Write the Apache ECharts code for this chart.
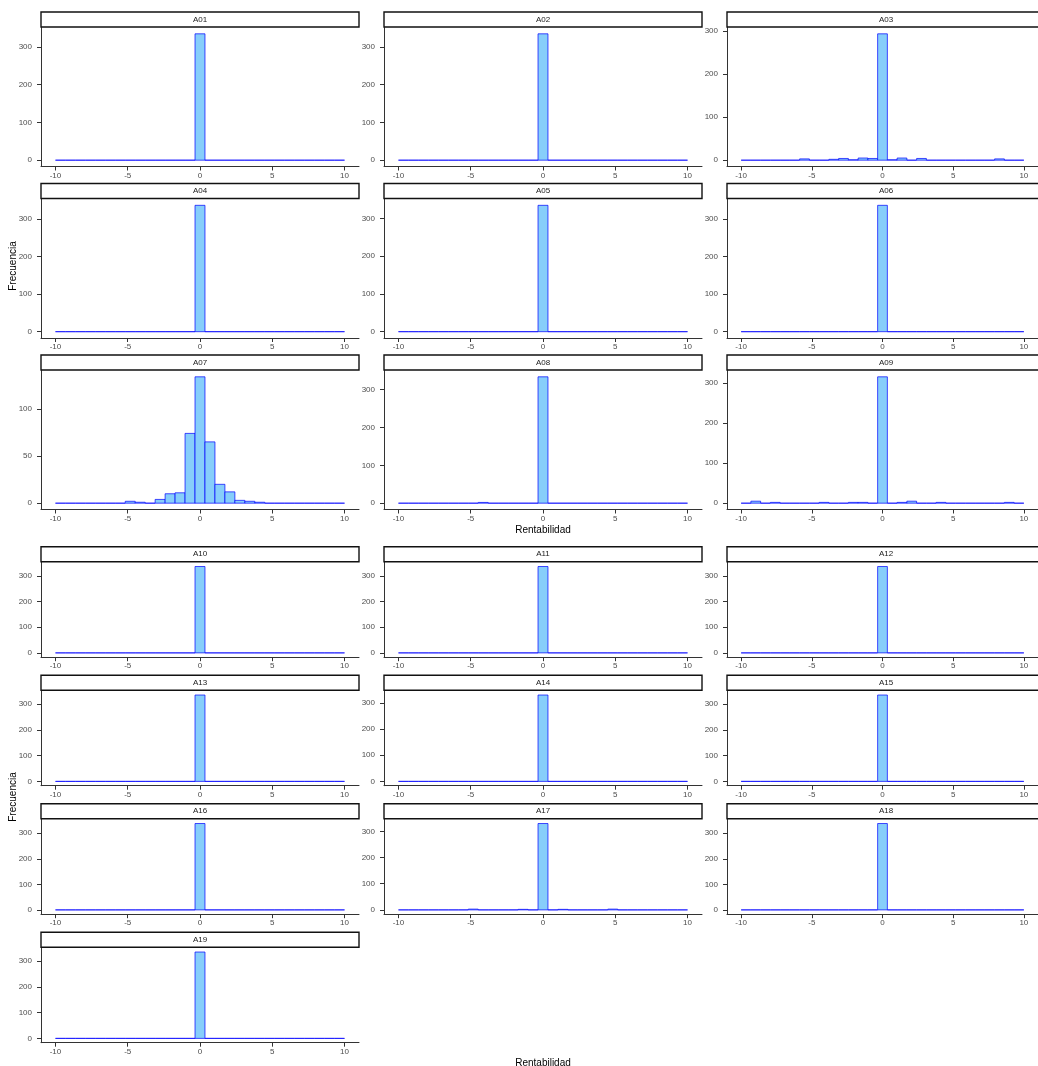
<!DOCTYPE html>
<html>
<head>
<meta charset="utf-8">
<script src="https://cdn.jsdelivr.net/npm/echarts@6/dist/echarts.min.js"></script>
<style>
  html, body { margin: 0; padding: 0; background: #ffffff; }
  #chart { width: 1038px; height: 1066px; }
</style>
</head>
<body>
<div id="chart"></div>
<script>
// Histogram bins: 29 equal-width bins covering Rentabilidad from -10 to 10
const binRange = [-10, 10];
const binCount = 29;
const xTicks = [-10, -5, 0, 5, 10];
const yTicksWide = [0, 100, 200, 300];
const yTicksNarrow = [0, 50, 100];

// Frequency per bin, lowest bin first (centre -9.66 ... 0 ... 9.66)
const A01 = [0,0,0,0,0,0,0,0,0,0,0,0,0,0,335,0,0,0,0,0,0,0,0,0,0,0,0,0,0];
const A02 = [0,0,0,0,0,0,0,0,0,0,0,0,0,0,335,0,0,0,0,0,0,0,0,0,0,0,0,0,0];
const A03 = [0,0,0,0,0,0,3,0,0,2,4,1,5,4,293,1,5,0,4,0,0,0,0,0,0,0,3,0,0];
const A04 = [0,0,0,0,0,0,0,0,0,0,0,0,0,0,336,0,0,0,0,0,0,0,0,0,0,0,0,0,0];
const A05 = [0,0,0,0,0,0,0,0,0,0,0,0,0,0,335,0,0,0,0,0,0,0,0,0,0,0,0,0,0];
const A06 = [0,0,0,0,0,0,0,0,0,0,0,0,0,0,336,0,0,0,0,0,0,0,0,0,0,0,0,0,0];
const A07 = [0,0,0,0,0,0,0,2,1,0,4,10,11,74,134,65,20,12,3,2,1,0,0,0,0,0,0,0,0];
const A08 = [0,0,0,0,0,0,0,0,2,0,0,0,0,0,334,0,0,0,0,0,0,0,0,0,0,0,0,0,0];
const A09 = [0,5,0,2,0,0,0,0,2,0,0,2,2,0,316,0,2,5,0,0,2,0,0,0,0,0,0,2,0];
const A10 = [0,0,0,0,0,0,0,0,0,0,0,0,0,0,336,0,0,0,0,0,0,0,0,0,0,0,0,0,0];
const A11 = [0,0,0,0,0,0,0,0,0,0,0,0,0,0,336,0,0,0,0,0,0,0,0,0,0,0,0,0,0];
const A12 = [0,0,0,0,0,0,0,0,0,0,0,0,0,0,336,0,0,0,0,0,0,0,0,0,0,0,0,0,0];
const A13 = [0,0,0,0,0,0,0,0,0,0,0,0,0,0,335,0,0,0,0,0,0,0,0,0,0,0,0,0,0];
const A14 = [0,0,0,0,0,0,0,0,0,0,0,0,0,0,330,0,0,0,0,0,0,0,0,0,0,0,0,0,0];
const A15 = [0,0,0,0,0,0,0,0,0,0,0,0,0,0,335,0,0,0,0,0,0,0,0,0,0,0,0,0,0];
const A16 = [0,0,0,0,0,0,0,0,0,0,0,0,0,0,338,0,0,0,0,0,0,0,0,0,0,0,0,0,0];
const A17 = [0,0,0,0,0,0,0,3,0,0,0,0,2,0,330,0,2,0,0,0,0,3,0,0,0,0,0,0,0];
const A18 = [0,0,0,0,0,0,0,0,0,0,0,0,0,0,338,0,0,0,0,0,0,0,0,0,0,0,0,0,0];
const A19 = [0,0,0,0,0,0,0,0,0,0,0,0,0,0,335,0,0,0,0,0,0,0,0,0,0,0,0,0,0];

const seriesNames = ['A01','A02','A03','A04','A05','A06','A07','A08','A09',
                     'A10','A11','A12','A13','A14','A15','A16','A17','A18','A19'];
const seriesCounts = [A01,A02,A03,A04,A05,A06,A07,A08,A09,
                      A10,A11,A12,A13,A14,A15,A16,A17,A18,A19];

const xTitle = 'Rentabilidad';
const yTitle = 'Frecuencia';

// ---- layout: two facet grids of three columns each ----
const FONT = '"Liberation Sans", Arial, sans-serif';
const COL_LEFT = [41, 384, 727];
const PANEL_W = 318;
const STRIP_H = 15;
const blocks = [
  { from: 0,  to: 9,  stripTops: [12, 183.5, 355], panelH: 139, xTitleY: 530, yTitleY: 266 },
  { from: 9,  to: 19, stripTops: [546.7, 675.2, 803.7, 932.2], panelH: 95, xTitleY: 1063, yTitleY: 797 }
];

const binWidth = (binRange[1] - binRange[0]) / binCount;

const grids = [], xAxes = [], yAxes = [], series = [], graphics = [];

function histogramItem(params, api) {
  const p0 = api.coord([api.value(0), 0]);
  const p1 = api.coord([api.value(1), api.value(2)]);
  return {
    type: 'rect',
    shape: { x: p0[0], y: p1[1], width: p1[0] - p0[0], height: p0[1] - p1[1] },
    style: { fill: '#87CEFA', stroke: 'rgba(0,0,255,0.7)', lineWidth: 1 }
  };
}

const axisColor = '#333333';
const tickLabel = { color: '#4D4D4D', fontSize: 8, fontFamily: FONT };

blocks.forEach(block => {
  for (let i = block.from; i < block.to; i++) {
    const local = i - block.from;
    const row = Math.floor(local / 3);
    const col = local % 3;
    const left = COL_LEFT[col];
    const stripTop = block.stripTops[row];
    const top = stripTop + STRIP_H + 0.5;
    const counts = seriesCounts[i];
    const peak = Math.max(...counts);
    const yTicks = peak < 200 ? yTicksNarrow : yTicksWide;
    const gi = grids.length;

    grids.push({ left: left, top: top, width: PANEL_W, height: block.panelH });

    xAxes.push({
      type: 'value', gridIndex: gi, position: 'bottom',
      min: binRange[0] - 0.05 * (binRange[1] - binRange[0]),
      max: binRange[1] + 0.05 * (binRange[1] - binRange[0]),
      axisLine: { onZero: false, lineStyle: { color: axisColor, width: 1 } },
      axisTick: { show: true, length: 4, customValues: xTicks, lineStyle: { color: axisColor, width: 1 } },
      axisLabel: Object.assign({ customValues: xTicks, margin: 5 }, tickLabel),
      splitLine: { show: false }
    });

    yAxes.push({
      type: 'value', gridIndex: gi, position: 'left',
      min: -0.05 * peak, max: 1.05 * peak,
      axisLine: { show: true, onZero: false, lineStyle: { color: axisColor, width: 1 } },
      axisTick: { show: true, length: 4, customValues: yTicks, lineStyle: { color: axisColor, width: 1 } },
      axisLabel: Object.assign({ customValues: yTicks, margin: 9 }, tickLabel),
      splitLine: { show: false }
    });

    const data = counts.map((n, k) => {
      const x0 = binRange[0] + k * binWidth;
      return [x0, x0 + binWidth, n];
    });

    series.push({
      type: 'custom', name: seriesNames[i],
      xAxisIndex: gi, yAxisIndex: gi,
      renderItem: histogramItem,
      encode: { x: [0, 1], y: 2 },
      data: data,
      silent: true
    });

    // facet strip with the series label
    graphics.push({
      type: 'rect',
      shape: { x: left, y: stripTop, width: PANEL_W, height: STRIP_H },
      style: { fill: '#ffffff', stroke: '#111111', lineWidth: 1.4 },
      z: 10
    });
    graphics.push({
      type: 'text',
      style: {
        text: seriesNames[i], x: left + PANEL_W / 2, y: stripTop + STRIP_H / 2,
        align: 'center', verticalAlign: 'middle',
        font: '8px ' + FONT, fill: '#1A1A1A'
      },
      z: 11
    });
  }

  // axis titles for this facet grid
  graphics.push({
    type: 'text',
    style: {
      text: xTitle, x: (COL_LEFT[0] + COL_LEFT[2] + PANEL_W) / 2, y: block.xTitleY,
      align: 'center', verticalAlign: 'middle', font: '10px ' + FONT, fill: '#000000'
    },
    z: 11
  });
  graphics.push({
    type: 'text',
    x: 13.5, y: block.yTitleY, rotation: Math.PI / 2,
    style: {
      text: yTitle, x: 0, y: 0,
      align: 'center', verticalAlign: 'middle', font: '10px ' + FONT, fill: '#000000'
    },
    z: 11
  });
});

const chart = echarts.init(document.getElementById('chart'), null, { renderer: 'canvas' });
chart.setOption({
  animation: false,
  backgroundColor: '#ffffff',
  grid: grids,
  xAxis: xAxes,
  yAxis: yAxes,
  series: series,
  graphic: { elements: graphics }
});
</script>
</body>
</html>
